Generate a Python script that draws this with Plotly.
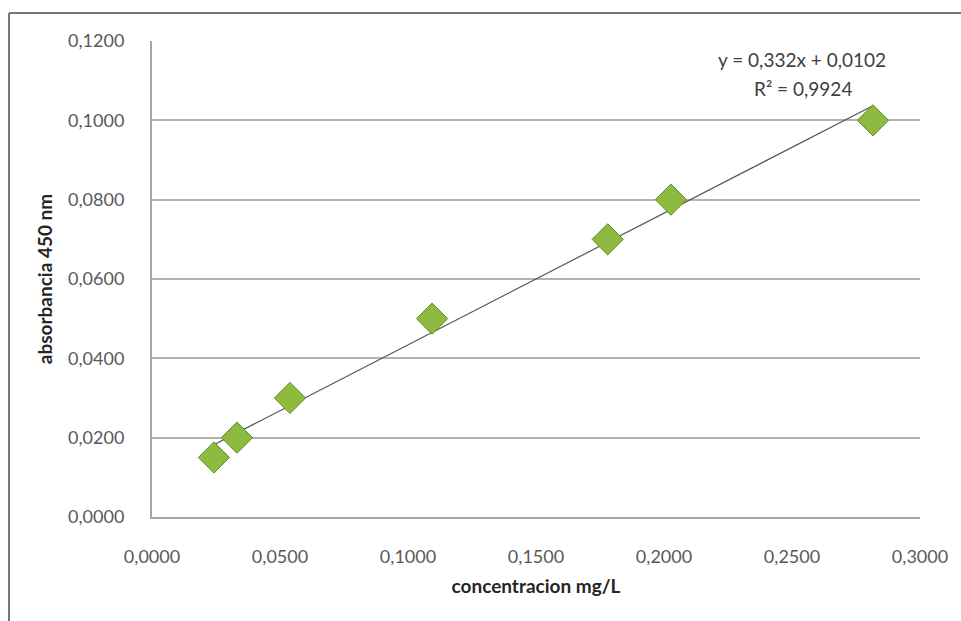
import plotly.graph_objects as go

# Data
concentracion = [0.0242, 0.0332, 0.0539, 0.1094, 0.1780, 0.2027, 0.2816]
absorbancia = [0.0150, 0.0200, 0.0300, 0.0500, 0.0700, 0.0800, 0.1000]
slope = 0.332
intercept = 0.0102
r2_text = "R² = 0,9924"
eq_text = "y = 0,332x + 0,0102"
x_ticks = [0.0, 0.05, 0.10, 0.15, 0.20, 0.25, 0.30]
y_ticks = [0.0, 0.02, 0.04, 0.06, 0.08, 0.10, 0.12]

W, H = 961, 621
ML, MR, MT, MB = 152, 41, 41, 104
PW, PH = W - ML - MR, H - MT - MB

trend_x = [min(concentracion), max(concentracion)]
trend_y = [slope * v + intercept for v in trend_x]

FONT = "Lato, Open Sans, sans-serif"

fig = go.Figure()
fig.add_trace(go.Scatter(
    x=trend_x, y=trend_y, mode="lines",
    line=dict(color="#555555", width=1.2), hoverinfo="skip", showlegend=False,
))
fig.add_trace(go.Scatter(
    x=concentracion, y=absorbancia, mode="markers",
    marker=dict(symbol="diamond", size=24, color="#8dbb3f",
                line=dict(color="#5f8a24", width=1)),
    showlegend=False,
))

def px_to_paper_x(px):
    return (px - ML) / PW

def px_to_paper_y(py):
    return (H - MB - py) / PH

fig.add_annotation(x=px_to_paper_x(802), y=px_to_paper_y(60), xref="paper", yref="paper",
                   xanchor="center", yanchor="middle",
                   text=eq_text, showarrow=False,
                   font=dict(family=FONT, size=19, color="#404040"))
fig.add_annotation(x=px_to_paper_x(803), y=px_to_paper_y(88), xref="paper", yref="paper",
                   xanchor="center", yanchor="middle",
                   text=r2_text, showarrow=False,
                   font=dict(family=FONT, size=19, color="#404040"))

# outer chart frame (top and left edges visible in reference)
fig.add_shape(type="line", xref="paper", yref="paper",
              x0=px_to_paper_x(9), x1=px_to_paper_x(965),
              y0=px_to_paper_y(13), y1=px_to_paper_y(13),
              line=dict(color="#767676", width=2))
fig.add_shape(type="line", xref="paper", yref="paper",
              x0=px_to_paper_x(9), x1=px_to_paper_x(9),
              y0=px_to_paper_y(13), y1=px_to_paper_y(625),
              line=dict(color="#767676", width=2))

fig.update_layout(
    width=W, height=H,
    margin=dict(l=ML, r=MR, t=MT, b=MB, pad=0),
    paper_bgcolor="white", plot_bgcolor="white",
    separators=",.",
    font=dict(family=FONT, size=18, color="#595959"),
    xaxis=dict(
        range=[0, 0.3], tickvals=x_ticks, tickformat=".4f",
        showgrid=False, zeroline=False,
        showline=True, linecolor="#a6a6a6", linewidth=2,
        ticks="", ticklen=0, ticklabelstandoff=22,
        tickfont=dict(family=FONT, size=18, color="#595959"),
        title=dict(text="<b>concentracion mg/L</b>", standoff=14,
                   font=dict(family=FONT, size=19, color="#262626")),
    ),
    yaxis=dict(
        range=[0, 0.12], tickvals=y_ticks, tickformat=".4f",
        showgrid=True, gridcolor="#b3b3b3", gridwidth=2,
        zeroline=False,
        showline=True, linecolor="#a6a6a6", linewidth=2,
        ticks="", ticklen=0, ticklabelstandoff=22,
        tickfont=dict(family=FONT, size=18, color="#595959"),
        title=dict(text="<b>absorbancia 450 nm</b>", standoff=10,
                   font=dict(family=FONT, size=19, color="#262626")),
    ),
)

fig.write_html("out.html")
